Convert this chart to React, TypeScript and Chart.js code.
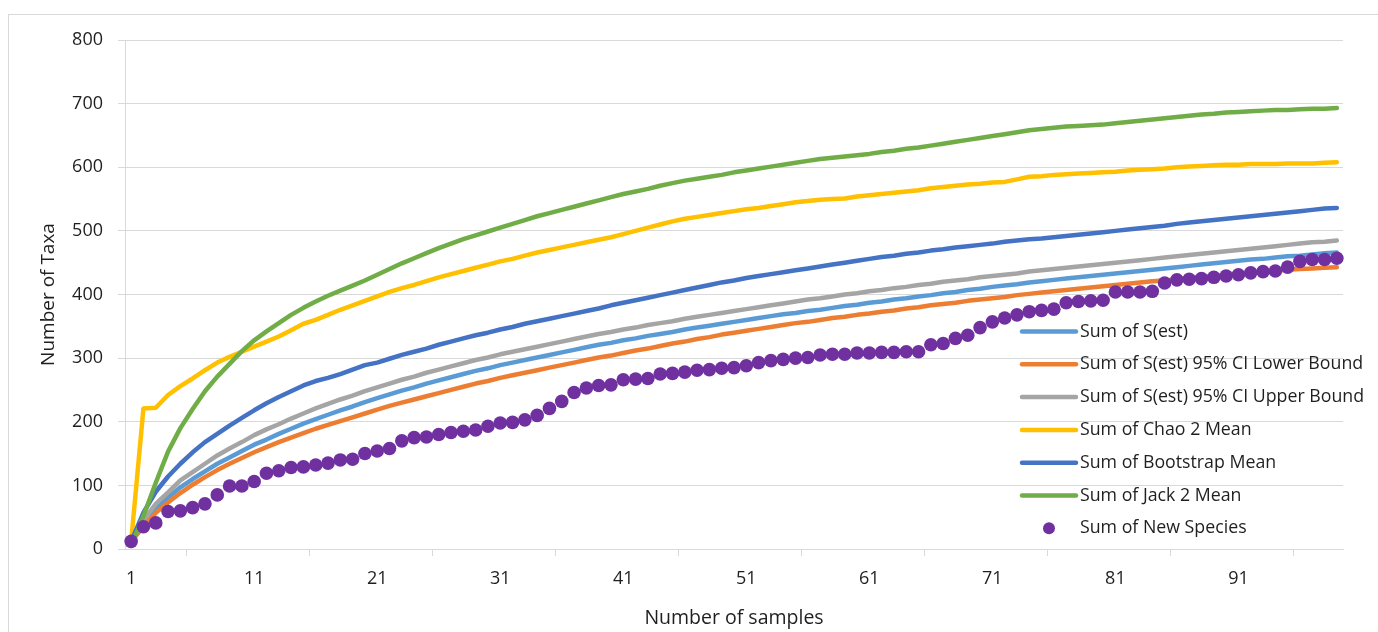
import React, { useEffect, useRef } from 'react';
import { Chart, registerables } from 'chart.js';

Chart.register(...registerables);

// Categories: sample number 1..99
const samples: string[] = Array.from({ length: 99 }, (_, i) => String(i + 1));

const sEst = [
  12, 40, 64, 81, 97, 110, 122, 134, 144, 154, 164, 172, 181, 189, 197, 204, 211, 218, 224, 231,
  237, 243, 249, 254, 260, 265, 270, 275, 280, 284, 289, 293, 297, 301, 305, 309, 313, 317, 321, 324,
  328, 331, 335, 338, 341, 345, 348, 351, 354, 357, 360, 363, 366, 369, 371, 374, 376, 379, 382, 384,
  387, 389, 392, 394, 397, 399, 402, 404, 407, 409, 412, 414, 416, 419, 421, 423, 425, 427, 429, 431,
  433, 435, 437, 439, 441, 443, 445, 447, 449, 451, 453, 455, 456, 458, 460, 461, 463, 465, 466,
];

const lowerBound = [
  12, 35, 57, 73, 88, 101, 113, 124, 134, 143, 152, 160, 168, 175, 182, 189, 195, 201, 207, 213,
  219, 225, 230, 235, 240, 245, 250, 255, 260, 264, 269, 273, 277, 281, 285, 289, 293, 297, 301, 304,
  308, 312, 315, 319, 323, 326, 330, 333, 337, 340, 343, 346, 349, 352, 355, 357, 360, 363, 365, 368,
  370, 373, 375, 378, 380, 383, 385, 387, 390, 392, 394, 396, 399, 401, 403, 405, 407, 409, 411, 413,
  415, 417, 419, 421, 422, 424, 426, 428, 429, 431, 433, 434, 436, 437, 439, 440, 441, 442, 443,
];

const upperBound = [
  12, 45, 71, 89, 108, 121, 134, 147, 158, 168, 179, 188, 196, 205, 213, 221, 228, 235, 241, 248,
  254, 260, 266, 271, 277, 282, 287, 292, 297, 301, 306, 310, 314, 318, 322, 326, 330, 334, 338, 341,
  345, 348, 352, 355, 358, 362, 365, 368, 371, 374, 377, 380, 383, 386, 389, 392, 394, 397, 400, 402,
  405, 407, 410, 412, 415, 417, 420, 422, 424, 427, 429, 431, 433, 436, 438, 440, 442, 444, 446, 448,
  450, 452, 454, 456, 458, 460, 462, 464, 466, 468, 470, 472, 474, 476, 478, 480, 482, 483, 485,
];

const chao2 = [
  12, 221, 222, 242, 256, 268, 281, 293, 302, 310, 318, 326, 334, 344, 354, 360, 368, 376, 383, 390,
  397, 404, 410, 415, 421, 427, 432, 437, 442, 447, 452, 456, 461, 466, 470, 474, 478, 482, 486, 490,
  495, 500, 505, 510, 515, 519, 522, 525, 528, 531, 534, 536, 539, 542, 545, 547, 549, 550, 551, 554,
  556, 558, 560, 562, 564, 567, 569, 571, 573, 574, 576, 577, 581, 585, 586, 588, 589, 590, 591, 592,
  593, 595, 596, 597, 598, 600, 601, 602, 603, 604, 604, 605, 605, 605, 606, 606, 606, 607, 608,
];

const bootstrap = [
  12, 57, 90, 114, 134, 152, 168, 181, 194, 206, 218, 229, 239, 248, 257, 264, 269, 275, 282, 289,
  293, 299, 305, 310, 315, 321, 326, 331, 336, 340, 345, 349, 354, 358, 362, 366, 370, 374, 378, 383,
  387, 391, 395, 399, 403, 407, 411, 415, 419, 422, 426, 429, 432, 435, 438, 441, 444, 447, 450, 453,
  456, 459, 461, 464, 466, 469, 471, 474, 476, 478, 480, 483, 485, 487, 488, 490, 492, 494, 496, 498,
  500, 502, 504, 506, 508, 511, 513, 515, 517, 519, 521, 523, 525, 527, 529, 531, 533, 535, 536,
];

const jack2 = [
  5, 52, 104, 153, 190, 220, 248, 271, 291, 311, 328, 342, 355, 368, 379, 389, 398, 406, 414, 422,
  431, 440, 449, 457, 465, 473, 480, 487, 493, 499, 505, 511, 517, 523, 528, 533, 538, 543, 548, 553,
  558, 562, 566, 571, 575, 579, 582, 585, 588, 592, 595, 598, 601, 604, 607, 610, 613, 615, 617, 619,
  621, 624, 626, 629, 631, 634, 637, 640, 643, 646, 649, 652, 655, 658, 660, 662, 664, 665, 666, 667,
  669, 671, 673, 675, 677, 679, 681, 683, 684, 686, 687, 688, 689, 690, 690, 691, 692, 692, 693,
];

const newSpecies = [
  12, 35, 41, 59, 60, 65, 71, 85, 99, 99, 106, 119, 123, 128, 129, 132, 135, 140, 141, 150,
  154, 158, 170, 175, 176, 180, 183, 185, 187, 193, 198, 199, 203, 210, 221, 232, 246, 253, 257, 258,
  266, 267, 268, 275, 276, 278, 281, 282, 284, 285, 288, 293, 296, 298, 300, 301, 305, 306, 306, 308,
  308, 309, 309, 310, 310, 321, 323, 331, 336, 348, 357, 363, 368, 373, 375, 377, 387, 389, 390, 391,
  404, 404, 404, 405, 418, 423, 424, 425, 427, 429, 431, 434, 436, 437, 443, 452, 455, 455, 457,
];

const yTicks = [0, 100, 200, 300, 400, 500, 600, 700, 800];

const FONT = "'Open Sans', 'Noto Sans', sans-serif";
const TEXT = '#1f1f1f';
const GRID = '#d9d9d9';

const framePlugin = {
  id: 'frame',
  beforeDraw(chart: any) {
    const ctx = chart.ctx;
    ctx.save();
    ctx.fillStyle = '#ffffff';
    ctx.fillRect(0, 0, chart.width, chart.height);
    ctx.strokeStyle = GRID;
    ctx.lineWidth = 1;
    ctx.strokeRect(8.5, 14.5, chart.width + 20, chart.height + 20);
    ctx.restore();
  },
};

const legendPlugin = {
  id: 'excelLegend',
  afterDatasetsDraw(chart: any) {
    const ctx = chart.ctx;
    ctx.save();
    const x0 = 1022;
    const x1 = 1076;
    const tx = 1080;
    const y0 = 331.5;
    const dy = 32.8;
    chart.data.datasets.forEach((ds: any, i: number) => {
      const y = y0 + i * dy;
      if (ds.showLine === false) {
        ctx.fillStyle = ds.pointBackgroundColor;
        ctx.beginPath();
        ctx.arc((x0 + x1) / 2, y, 6, 0, Math.PI * 2);
        ctx.fill();
      } else {
        ctx.strokeStyle = ds.borderColor;
        ctx.lineWidth = 4.5;
        ctx.lineCap = 'round';
        ctx.beginPath();
        ctx.moveTo(x0, y);
        ctx.lineTo(x1, y);
        ctx.stroke();
      }
      ctx.fillStyle = TEXT;
      ctx.font = `17.75px ${FONT}`;
      ctx.textBaseline = 'middle';
      ctx.textAlign = 'left';
      ctx.fillText(ds.label, tx, y);
    });
    ctx.restore();
  },
};

function lineSet(label: string, data: number[], color: string, order: number) {
  return {
    label,
    data,
    borderColor: color,
    backgroundColor: color,
    borderWidth: 4.5,
    borderCapStyle: 'round' as const,
    borderJoinStyle: 'round' as const,
    pointRadius: 0,
    tension: 0,
    fill: false,
    order,
    clip: false as const,
  };
}

export default function App() {
  const ref = useRef<HTMLCanvasElement | null>(null);

  useEffect(() => {
    if (!ref.current) return;
    Chart.defaults.font.family = FONT;
    const chart = new Chart(ref.current, {
      type: 'line',
      data: {
        labels: samples,
        datasets: [
          lineSet('Sum of S(est)', sEst, '#5B9BD5', 7),
          lineSet('Sum of S(est) 95% CI Lower Bound', lowerBound, '#ED7D31', 6),
          lineSet('Sum of S(est) 95% CI Upper Bound', upperBound, '#A5A5A5', 5),
          lineSet('Sum of Chao 2 Mean', chao2, '#FFC000', 4),
          lineSet('Sum of Bootstrap Mean', bootstrap, '#4472C4', 3),
          lineSet('Sum of Jack 2 Mean', jack2, '#70AD47', 2),
          {
            label: 'Sum of New Species',
            data: newSpecies,
            showLine: false,
            pointRadius: 6.8,
            pointBorderWidth: 0,
            pointBackgroundColor: '#7030A0',
            pointBorderColor: '#7030A0',
            backgroundColor: '#7030A0',
            borderColor: '#7030A0',
            order: 1,
            clip: false as const,
          } as any,
        ],
      },
      options: {
        responsive: false,
        animation: false,
        events: [],
        layout: { padding: { top: 40, right: 35, left: 0, bottom: 0 } },
        plugins: {
          legend: { display: false },
          tooltip: { enabled: false },
        },
        scales: {
          x: {
            type: 'category',
            offset: true,
            grid: {
              offset: true,
              drawOnChartArea: false,
              drawTicks: true,
              tickLength: 7,
              lineWidth: 1,
              tickColor: (c: any) => (c.index % 10 === 5 ? GRID : 'rgba(0,0,0,0)'),
            },
            border: { display: true, color: GRID, width: 1 },
            ticks: {
              autoSkip: false,
              maxRotation: 0,
              minRotation: 0,
              padding: 12,
              color: TEXT,
              font: { size: 18 },
              callback: (_v: any, idx: number) => (idx % 10 === 0 ? samples[idx] : ''),
            },
            title: {
              display: true,
              text: 'Number of samples',
              color: TEXT,
              font: { size: 19.5 },
              padding: { top: 0, bottom: 2 },
            },
            afterFit: (s: any) => {
              s.height = 83;
            },
          },
          y: {
            min: 0,
            max: 800,
            afterBuildTicks: (s: any) => {
              s.ticks = yTicks.map((v) => ({ value: v }));
            },
            grid: {
              color: GRID,
              lineWidth: 1,
              drawTicks: true,
              tickLength: 7,
              tickColor: GRID,
            },
            border: { display: true, color: GRID, width: 1 },
            ticks: {
              padding: 15,
              color: TEXT,
              font: { size: 18 },
            },
            title: {
              display: true,
              text: 'Number of Taxa',
              color: TEXT,
              font: { size: 19 },
              padding: { top: 37, bottom: 0 },
            },
            afterFit: (s: any) => {
              s.width = 125;
            },
          },
        },
      },
      plugins: [framePlugin, legendPlugin],
    });
    return () => chart.destroy();
  }, []);

  return (
    <div style={{ position: 'absolute', left: 0, top: 0, width: 1378, height: 632 }}>
      <canvas ref={ref} width={1378} height={632} style={{ display: 'block', width: 1378, height: 632 }} />
    </div>
  );
}
